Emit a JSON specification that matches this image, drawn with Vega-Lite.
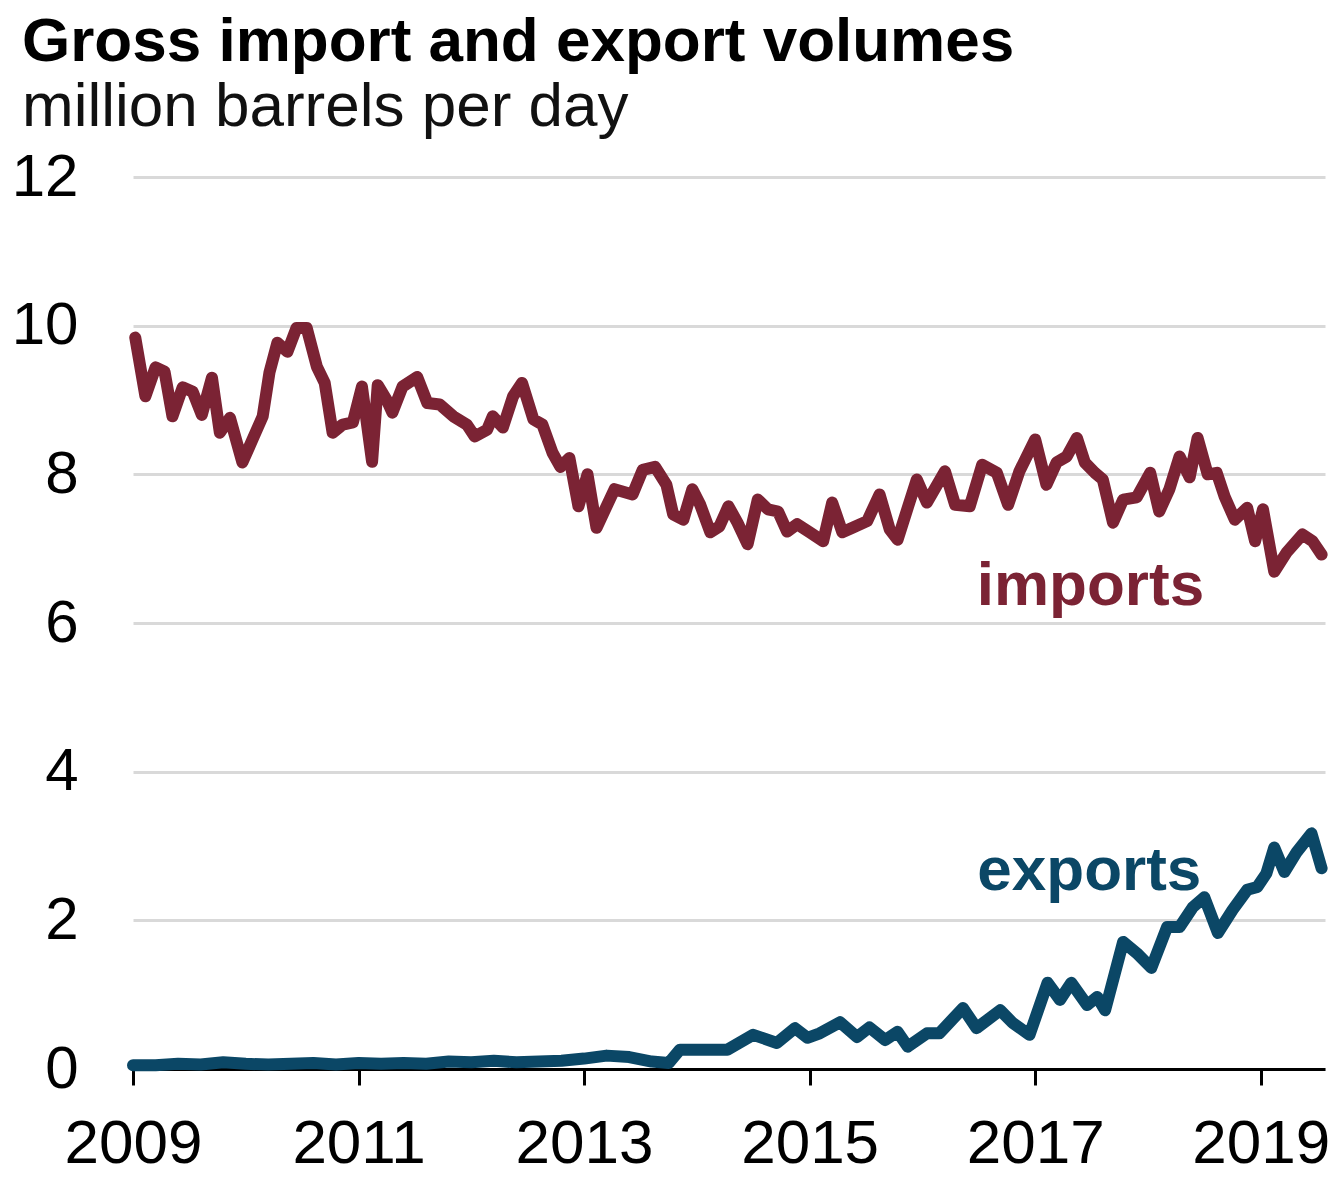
{
  "$schema": "https://vega.github.io/schema/vega-lite/v6.json",
  "width": 1192,
  "height": 892,
  "autosize": {"type": "none"},
  "padding": {"left": 133, "top": 177, "right": 18, "bottom": 109},
  "background": "white",
  "title": {
    "text": "Gross import and export volumes",
    "subtitle": "million barrels per day",
    "anchor": "start",
    "frame": "group",
    "dx": -111,
    "offset": 8,
    "font": "Liberation Sans",
    "fontSize": 62,
    "fontWeight": "bold",
    "color": "#000000",
    "subtitleFont": "Liberation Sans",
    "subtitleFontSize": 62,
    "subtitleFontWeight": "normal",
    "subtitleColor": "#111111",
    "subtitlePadding": 3
  },
  "datasets": {
    "series": [
      {"series": "imports", "year": 2009.02, "value": 9.84},
      {"series": "imports", "year": 2009.11, "value": 9.05},
      {"series": "imports", "year": 2009.20, "value": 9.44},
      {"series": "imports", "year": 2009.28, "value": 9.38},
      {"series": "imports", "year": 2009.35, "value": 8.78},
      {"series": "imports", "year": 2009.44, "value": 9.17},
      {"series": "imports", "year": 2009.53, "value": 9.11},
      {"series": "imports", "year": 2009.61, "value": 8.80},
      {"series": "imports", "year": 2009.70, "value": 9.30},
      {"series": "imports", "year": 2009.77, "value": 8.56},
      {"series": "imports", "year": 2009.86, "value": 8.76},
      {"series": "imports", "year": 2009.97, "value": 8.16},
      {"series": "imports", "year": 2010.06, "value": 8.47},
      {"series": "imports", "year": 2010.15, "value": 8.78},
      {"series": "imports", "year": 2010.21, "value": 9.37},
      {"series": "imports", "year": 2010.28, "value": 9.77},
      {"series": "imports", "year": 2010.37, "value": 9.65},
      {"series": "imports", "year": 2010.45, "value": 9.97},
      {"series": "imports", "year": 2010.54, "value": 9.97},
      {"series": "imports", "year": 2010.63, "value": 9.45},
      {"series": "imports", "year": 2010.70, "value": 9.23},
      {"series": "imports", "year": 2010.77, "value": 8.56},
      {"series": "imports", "year": 2010.86, "value": 8.67},
      {"series": "imports", "year": 2010.95, "value": 8.70},
      {"series": "imports", "year": 2011.03, "value": 9.18},
      {"series": "imports", "year": 2011.12, "value": 8.17},
      {"series": "imports", "year": 2011.17, "value": 9.20},
      {"series": "imports", "year": 2011.25, "value": 9.00},
      {"series": "imports", "year": 2011.30, "value": 8.83},
      {"series": "imports", "year": 2011.39, "value": 9.18},
      {"series": "imports", "year": 2011.52, "value": 9.31},
      {"series": "imports", "year": 2011.61, "value": 8.96},
      {"series": "imports", "year": 2011.72, "value": 8.94},
      {"series": "imports", "year": 2011.84, "value": 8.78},
      {"series": "imports", "year": 2011.96, "value": 8.67},
      {"series": "imports", "year": 2012.03, "value": 8.51},
      {"series": "imports", "year": 2012.14, "value": 8.60},
      {"series": "imports", "year": 2012.19, "value": 8.78},
      {"series": "imports", "year": 2012.28, "value": 8.63},
      {"series": "imports", "year": 2012.37, "value": 9.05},
      {"series": "imports", "year": 2012.45, "value": 9.23},
      {"series": "imports", "year": 2012.55, "value": 8.74},
      {"series": "imports", "year": 2012.63, "value": 8.67},
      {"series": "imports", "year": 2012.72, "value": 8.29},
      {"series": "imports", "year": 2012.79, "value": 8.10},
      {"series": "imports", "year": 2012.87, "value": 8.22},
      {"series": "imports", "year": 2012.95, "value": 7.57},
      {"series": "imports", "year": 2013.03, "value": 8.00},
      {"series": "imports", "year": 2013.11, "value": 7.28},
      {"series": "imports", "year": 2013.27, "value": 7.80},
      {"series": "imports", "year": 2013.43, "value": 7.73},
      {"series": "imports", "year": 2013.52, "value": 8.06},
      {"series": "imports", "year": 2013.63, "value": 8.10},
      {"series": "imports", "year": 2013.73, "value": 7.86},
      {"series": "imports", "year": 2013.79, "value": 7.46},
      {"series": "imports", "year": 2013.88, "value": 7.39},
      {"series": "imports", "year": 2013.96, "value": 7.80},
      {"series": "imports", "year": 2014.03, "value": 7.59},
      {"series": "imports", "year": 2014.12, "value": 7.22},
      {"series": "imports", "year": 2014.20, "value": 7.30},
      {"series": "imports", "year": 2014.28, "value": 7.57},
      {"series": "imports", "year": 2014.36, "value": 7.35},
      {"series": "imports", "year": 2014.45, "value": 7.06},
      {"series": "imports", "year": 2014.54, "value": 7.66},
      {"series": "imports", "year": 2014.63, "value": 7.53},
      {"series": "imports", "year": 2014.72, "value": 7.50},
      {"series": "imports", "year": 2014.80, "value": 7.23},
      {"series": "imports", "year": 2014.89, "value": 7.33},
      {"series": "imports", "year": 2015.00, "value": 7.22},
      {"series": "imports", "year": 2015.12, "value": 7.10},
      {"series": "imports", "year": 2015.20, "value": 7.62},
      {"series": "imports", "year": 2015.29, "value": 7.22},
      {"series": "imports", "year": 2015.38, "value": 7.28},
      {"series": "imports", "year": 2015.51, "value": 7.37},
      {"series": "imports", "year": 2015.62, "value": 7.73},
      {"series": "imports", "year": 2015.71, "value": 7.26},
      {"series": "imports", "year": 2015.78, "value": 7.12},
      {"series": "imports", "year": 2015.87, "value": 7.55},
      {"series": "imports", "year": 2015.95, "value": 7.93},
      {"series": "imports", "year": 2016.04, "value": 7.62},
      {"series": "imports", "year": 2016.20, "value": 8.04},
      {"series": "imports", "year": 2016.29, "value": 7.59},
      {"series": "imports", "year": 2016.42, "value": 7.57},
      {"series": "imports", "year": 2016.53, "value": 8.13},
      {"series": "imports", "year": 2016.66, "value": 8.02},
      {"series": "imports", "year": 2016.76, "value": 7.59},
      {"series": "imports", "year": 2016.86, "value": 8.04},
      {"series": "imports", "year": 2017.00, "value": 8.47},
      {"series": "imports", "year": 2017.10, "value": 7.86},
      {"series": "imports", "year": 2017.19, "value": 8.16},
      {"series": "imports", "year": 2017.28, "value": 8.24},
      {"series": "imports", "year": 2017.37, "value": 8.49},
      {"series": "imports", "year": 2017.44, "value": 8.16},
      {"series": "imports", "year": 2017.53, "value": 8.02},
      {"series": "imports", "year": 2017.60, "value": 7.93},
      {"series": "imports", "year": 2017.69, "value": 7.35},
      {"series": "imports", "year": 2017.78, "value": 7.66},
      {"series": "imports", "year": 2017.90, "value": 7.69},
      {"series": "imports", "year": 2018.02, "value": 8.02},
      {"series": "imports", "year": 2018.10, "value": 7.50},
      {"series": "imports", "year": 2018.19, "value": 7.80},
      {"series": "imports", "year": 2018.28, "value": 8.24},
      {"series": "imports", "year": 2018.37, "value": 7.96},
      {"series": "imports", "year": 2018.44, "value": 8.49},
      {"series": "imports", "year": 2018.53, "value": 8.00},
      {"series": "imports", "year": 2018.61, "value": 8.02},
      {"series": "imports", "year": 2018.68, "value": 7.70},
      {"series": "imports", "year": 2018.77, "value": 7.39},
      {"series": "imports", "year": 2018.88, "value": 7.55},
      {"series": "imports", "year": 2018.95, "value": 7.10},
      {"series": "imports", "year": 2019.02, "value": 7.53},
      {"series": "imports", "year": 2019.12, "value": 6.69},
      {"series": "imports", "year": 2019.23, "value": 6.95},
      {"series": "imports", "year": 2019.37, "value": 7.19},
      {"series": "imports", "year": 2019.46, "value": 7.10},
      {"series": "imports", "year": 2019.54, "value": 6.92},
      {"series": "exports", "year": 2009.00, "value": 0.05},
      {"series": "exports", "year": 2009.20, "value": 0.05},
      {"series": "exports", "year": 2009.40, "value": 0.07},
      {"series": "exports", "year": 2009.60, "value": 0.06},
      {"series": "exports", "year": 2009.80, "value": 0.09},
      {"series": "exports", "year": 2010.00, "value": 0.07},
      {"series": "exports", "year": 2010.20, "value": 0.06},
      {"series": "exports", "year": 2010.40, "value": 0.07},
      {"series": "exports", "year": 2010.60, "value": 0.08},
      {"series": "exports", "year": 2010.80, "value": 0.06},
      {"series": "exports", "year": 2011.00, "value": 0.08},
      {"series": "exports", "year": 2011.20, "value": 0.07},
      {"series": "exports", "year": 2011.40, "value": 0.08},
      {"series": "exports", "year": 2011.60, "value": 0.07},
      {"series": "exports", "year": 2011.80, "value": 0.10},
      {"series": "exports", "year": 2012.00, "value": 0.09},
      {"series": "exports", "year": 2012.20, "value": 0.11},
      {"series": "exports", "year": 2012.40, "value": 0.09},
      {"series": "exports", "year": 2012.60, "value": 0.10},
      {"series": "exports", "year": 2012.80, "value": 0.11},
      {"series": "exports", "year": 2013.00, "value": 0.14},
      {"series": "exports", "year": 2013.20, "value": 0.18},
      {"series": "exports", "year": 2013.40, "value": 0.16},
      {"series": "exports", "year": 2013.60, "value": 0.10},
      {"series": "exports", "year": 2013.75, "value": 0.08},
      {"series": "exports", "year": 2013.85, "value": 0.26},
      {"series": "exports", "year": 2014.03, "value": 0.26},
      {"series": "exports", "year": 2014.27, "value": 0.26},
      {"series": "exports", "year": 2014.50, "value": 0.46},
      {"series": "exports", "year": 2014.71, "value": 0.35},
      {"series": "exports", "year": 2014.87, "value": 0.55},
      {"series": "exports", "year": 2014.98, "value": 0.42},
      {"series": "exports", "year": 2015.09, "value": 0.48},
      {"series": "exports", "year": 2015.27, "value": 0.63},
      {"series": "exports", "year": 2015.42, "value": 0.43},
      {"series": "exports", "year": 2015.53, "value": 0.56},
      {"series": "exports", "year": 2015.67, "value": 0.39},
      {"series": "exports", "year": 2015.78, "value": 0.50},
      {"series": "exports", "year": 2015.87, "value": 0.30},
      {"series": "exports", "year": 2016.04, "value": 0.48},
      {"series": "exports", "year": 2016.15, "value": 0.48},
      {"series": "exports", "year": 2016.36, "value": 0.82},
      {"series": "exports", "year": 2016.48, "value": 0.55},
      {"series": "exports", "year": 2016.69, "value": 0.79},
      {"series": "exports", "year": 2016.80, "value": 0.62},
      {"series": "exports", "year": 2016.95, "value": 0.46},
      {"series": "exports", "year": 2017.11, "value": 1.16},
      {"series": "exports", "year": 2017.22, "value": 0.93},
      {"series": "exports", "year": 2017.32, "value": 1.16},
      {"series": "exports", "year": 2017.46, "value": 0.86},
      {"series": "exports", "year": 2017.55, "value": 0.97},
      {"series": "exports", "year": 2017.62, "value": 0.79},
      {"series": "exports", "year": 2017.78, "value": 1.71},
      {"series": "exports", "year": 2017.90, "value": 1.56},
      {"series": "exports", "year": 2018.03, "value": 1.36},
      {"series": "exports", "year": 2018.17, "value": 1.91},
      {"series": "exports", "year": 2018.28, "value": 1.91},
      {"series": "exports", "year": 2018.40, "value": 2.18},
      {"series": "exports", "year": 2018.50, "value": 2.31},
      {"series": "exports", "year": 2018.62, "value": 1.83},
      {"series": "exports", "year": 2018.75, "value": 2.14},
      {"series": "exports", "year": 2018.88, "value": 2.41},
      {"series": "exports", "year": 2018.97, "value": 2.45},
      {"series": "exports", "year": 2019.05, "value": 2.63},
      {"series": "exports", "year": 2019.12, "value": 2.98},
      {"series": "exports", "year": 2019.21, "value": 2.65},
      {"series": "exports", "year": 2019.32, "value": 2.92},
      {"series": "exports", "year": 2019.45, "value": 3.17},
      {"series": "exports", "year": 2019.54, "value": 2.70}
    ],
    "labels": [
      {"series": "imports", "year": 2017.49, "value": 6.24},
      {"series": "exports", "year": 2017.48, "value": 2.41}
    ]
  },
  "encoding": {
    "x": {
      "field": "year",
      "type": "quantitative",
      "scale": {"domain": [2009, 2019.57], "nice": false, "zero": false},
      "axis": {
        "values": [2009, 2011, 2013, 2015, 2017, 2019],
        "format": "d",
        "title": null,
        "grid": false,
        "domainColor": "#000000",
        "domainWidth": 3,
        "tickColor": "#000000",
        "tickWidth": 3,
        "tickSize": 16,
        "labelFont": "Liberation Sans",
        "labelFontSize": 62,
        "labelColor": "#000000",
        "labelPadding": 28,
        "labelOverlap": false,
        "labelFlush": false,
        "labelBound": false
      }
    },
    "y": {
      "field": "value",
      "type": "quantitative",
      "scale": {"domain": [0, 12], "nice": false},
      "axis": {
        "values": [0, 2, 4, 6, 8, 10, 12],
        "title": null,
        "domain": false,
        "ticks": false,
        "tickSize": 0,
        "grid": true,
        "gridColor": "#d9d9d9",
        "gridWidth": 3,
        "labelFont": "Liberation Sans",
        "labelFontSize": 60,
        "labelColor": "#000000",
        "labelPadding": 55,
        "labelOverlap": false,
        "labelBound": false
      }
    },
    "color": {
      "field": "series",
      "type": "nominal",
      "scale": {"domain": ["imports", "exports"], "range": ["#7b2334", "#0b4766"]},
      "legend": null
    }
  },
  "layer": [
    {
      "data": {"name": "series"},
      "mark": {"type": "line", "strokeWidth": 12, "strokeJoin": "round", "strokeCap": "round"}
    },
    {
      "data": {"name": "labels"},
      "mark": {"type": "text", "font": "Liberation Sans", "fontSize": 62, "fontWeight": "bold", "align": "center", "baseline": "alphabetic"},
      "encoding": {"text": {"field": "series"}}
    }
  ],
  "config": {
    "view": {"stroke": null}
  }
}
